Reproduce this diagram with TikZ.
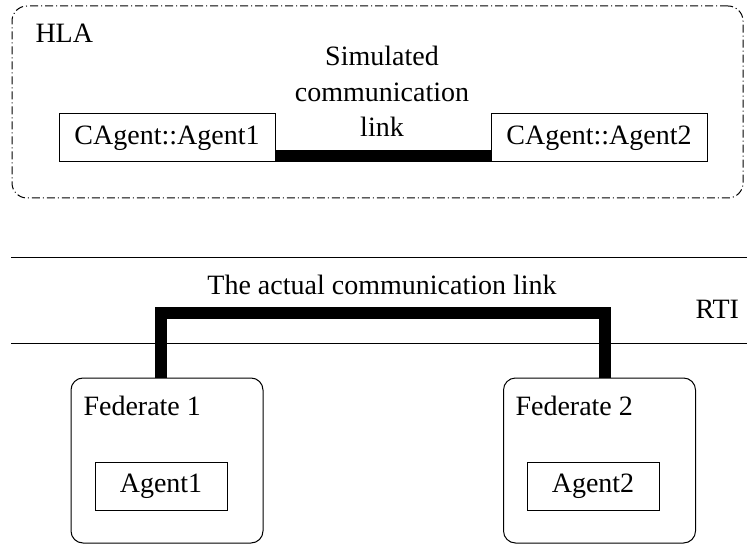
\documentclass[tikz,border=0pt]{standalone}
\usepackage{fontspec}
\setmainfont{Liberation Serif}
\usetikzlibrary{positioning}

\begin{document}
\begin{tikzpicture}[
        x=0.5pt, y=-0.5pt,
        line width=0.5pt,
        every node/.style={font=\fontsize{14}{17.75}\selectfont},
        plainbox/.style={draw, inner sep=0pt, minimum height=24pt},
        fedbox/.style={draw, rounded corners=6pt, inner sep=0pt,
                minimum width=96pt, minimum height=82.5pt},
        hlabox/.style={draw, rounded corners=7.5pt, inner sep=0pt,
                dash pattern=on 4pt off 1.5pt on 0.5pt off 1.5pt,
                minimum width=365.5pt, minimum height=96pt},
        link/.style={line width=6pt, line join=miter},
        tag/.style={anchor=base west, inner sep=0pt}
    ]
    \useasboundingbox (0,0) rectangle (747,544);

    % HLA part
    \node[hlabox] (hla) at (377.5,102) {};
    \node[tag] (hlatag) at (35,43) {HLA};
    \node[plainbox, minimum width=108pt] (cagent1) at (167,138) {CAgent::Agent1};
    \node[plainbox, minimum width=108pt] (cagent2) at (599,138) {CAgent::Agent2};
    \node[align=center, anchor=base, inner sep=0pt] (simlink) at (382,137)
        {Simulated\\communication\\link};
    \draw[link] ([yshift=3pt]cagent1.south east) -- ([yshift=3pt]cagent2.south west);

    % RTI part
    \coordinate (rtitopw) at (11,258);
    \coordinate (rtitope) at (747,258);
    \coordinate (rtibotw) at (11,343);
    \coordinate (rtibote) at (747,343);
    \draw (rtitopw) -- (rtitope);
    \draw (rtibotw) -- (rtibote);
    \node[anchor=base, inner sep=0pt] (actlink) at (382,294) {The actual communication link};
    \node[tag] (rti) at (695,319) {RTI};

    % federates
    \node[fedbox] (fed1) at (167,460.5) {};
    \node[fedbox] (fed2) at (599.5,460.5) {};
    \node[tag] (fed1tag) at (83,415) {Federate 1};
    \node[tag] (fed2tag) at (515,415) {Federate 2};
    \node[plainbox, minimum width=66pt] (agent1) at (161,486) {Agent1};
    \node[plainbox, minimum width=66pt] (agent2) at (593,486) {Agent2};

    \coordinate (bend1) at (161,313);
    \coordinate (bend2) at (605,313);
    \draw[link] (fed1.north -| bend1) -- (bend1) -- (bend2) -- (fed2.north -| bend2);
\end{tikzpicture}
\end{document}
